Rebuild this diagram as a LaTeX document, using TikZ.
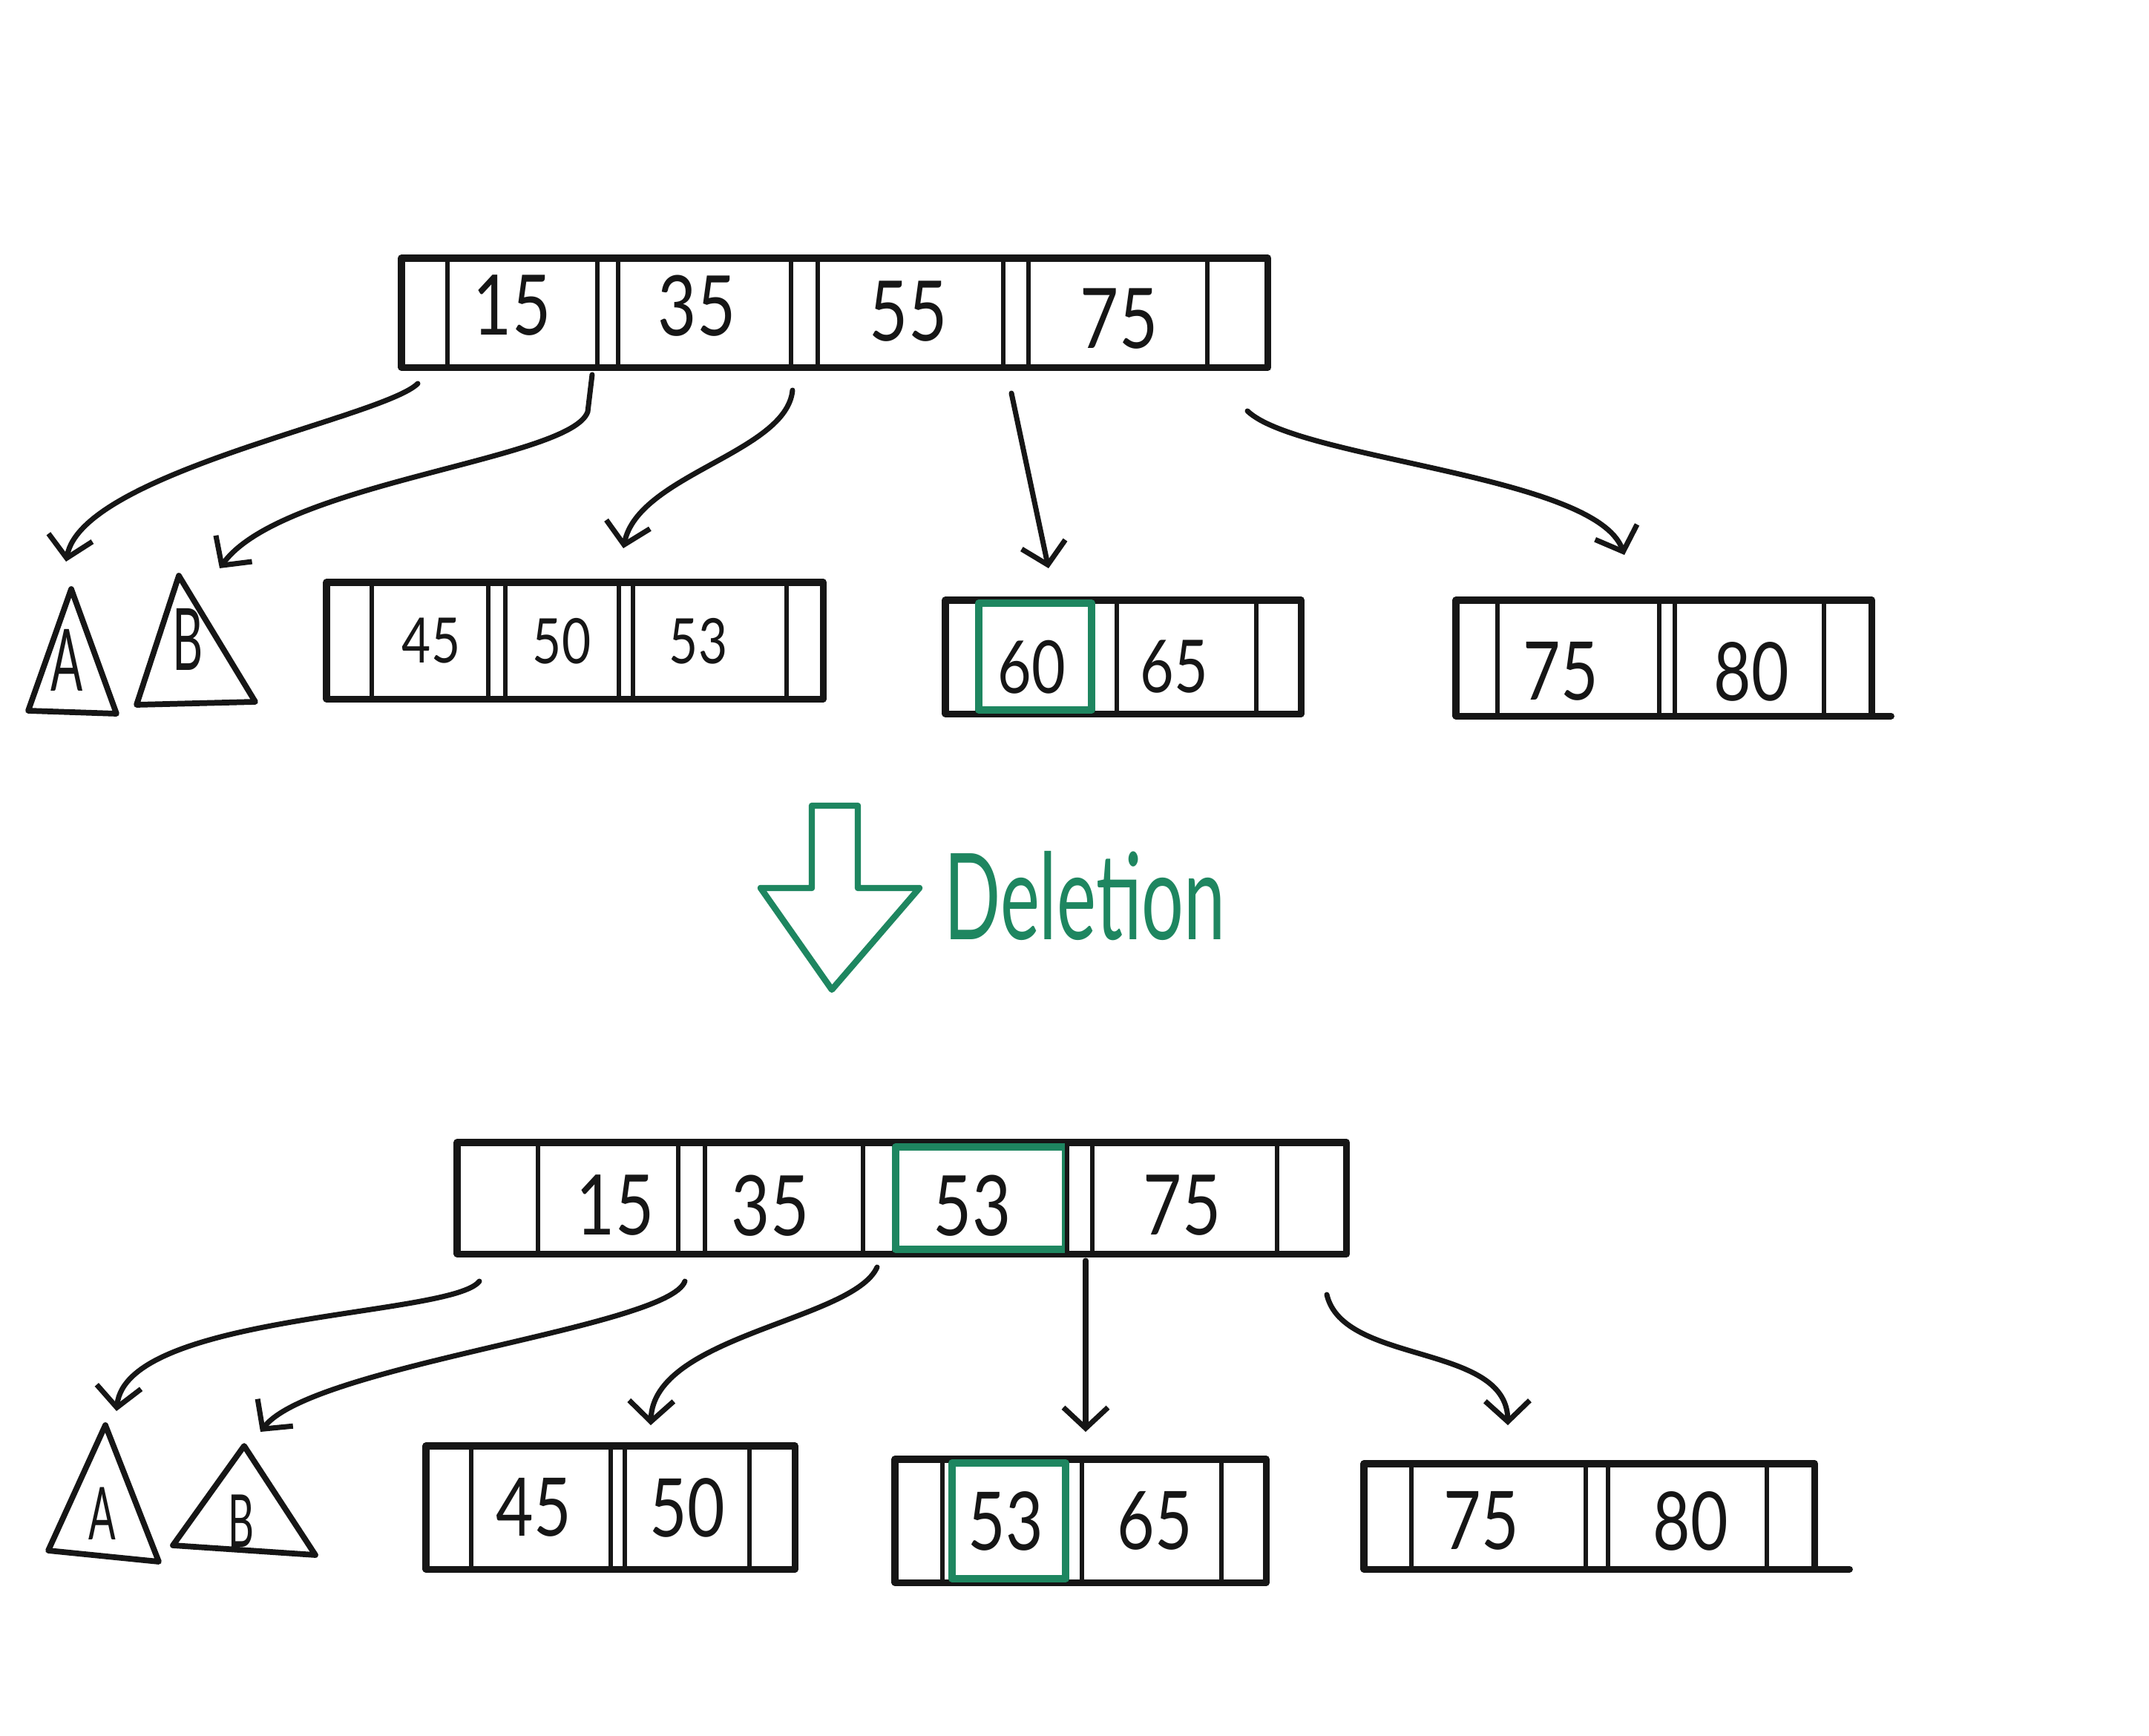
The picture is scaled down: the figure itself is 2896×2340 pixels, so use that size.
\documentclass[tikz,border=0pt]{standalone}
\usepackage{fontspec}
\setmainfont{Lato}
\usetikzlibrary{arrows.meta}
\definecolor{pen}{RGB}{22,22,22}
\definecolor{mark}{RGB}{30,134,96}
\begin{document}
\begin{tikzpicture}[x=0.01cm,y=-0.01cm,line join=round,line cap=round,
  box/.style={draw=pen,line width=2.6pt,inner sep=0pt,outer sep=0pt},
  divl/.style={draw=pen,line width=1.8pt},
  tri/.style={draw=pen,line width=2.2pt},
  hl/.style={draw=mark,line width=2.8pt},
  key/.style={text=pen,inner sep=0pt,xscale=0.8,transform shape},
  sub/.style={text=pen,inner sep=0pt,xscale=0.55,transform shape},
  conn/.style={draw=pen,line width=2pt,-{Straight Barb[length=0.28cm,width=0.6cm]}},
  fr/.style={font=\fontsize{32}{36}\selectfont},
  fa/.style={font=\fontsize{24}{28}\selectfont},
  fb/.style={font=\fontsize{28}{32}\selectfont},
  fc/.style={font=\fontsize{31}{35}\selectfont},
  fl/.style={font=\fontsize{33}{37}\selectfont},
  fm/.style={font=\fontsize{28}{32}\selectfont}]
\fill[white] (0,0) rectangle (2896,2340);
\useasboundingbox (0,0) rectangle (2896,2340);

% ---------------- top tree: root
\node[box,anchor=north west,minimum width=11.67cm,minimum height=1.47cm] (r1) at (541,348) {};
\foreach \x in {603,805,833,1066,1102,1352,1386,1627} \draw[divl] (\x,348) -- (\x,495);
\node[key,fr] (r1k1) at (690,412) {15};
\node[key,fr] (r1k2) at (939,412) {35};
\node[key,fr] (r1k3) at (1224,420) {55};
\node[key,fr] (r1k4) at (1508,430) {75};

% top tree: subtrees A, B
\draw[tri] (96,794) -- (157,962) -- (38,958) -- cycle;
\node[sub,fl] (ta1) at (90,890) {A};
\draw[tri] (241,776) -- (344,946) -- (184,950) -- cycle;
\node[sub,fl] (tb1) at (253,862) {B};

% top tree: leaf 45 50 53
\node[box,anchor=north west,minimum width=6.69cm,minimum height=1.57cm] (l1) at (440,785) {};
\foreach \x in {501,658,681,834,853,1060} \draw[divl] (\x,785) -- (\x,942);
\node[key,fa] (l1k1) at (581,864) {45};
\node[key,fa] (l1k2) at (757,864) {50};
\node[key,fa] (l1k3) at (941,864) {53};

% top tree: leaf 60 65
\node[box,anchor=north west,minimum width=4.79cm,minimum height=1.53cm] (l2) at (1274,809) {};
\foreach \x in {1317,1471,1505,1693} \draw[divl] (\x,809) -- (\x,962);
\draw[hl] (1319,813) rectangle (1471,957);
\node[key,fb] (l2k1) at (1390,899) {60};
\node[key,fb] (l2k2) at (1582,899) {65};

% top tree: leaf 75 80
\node[box,anchor=north west,minimum width=5.60cm,minimum height=1.56cm] (l3) at (1962,809) {};
\foreach \x in {2018,2236,2257,2458} \draw[divl] (\x,809) -- (\x,965);
\draw[box] (l3.south east) -- ++(26,0);
\node[key,fc] (l3k1) at (2103,905) {75};
\node[key,fc] (l3k2) at (2360,905) {80};

% top tree: connectors
\coordinate (s1) at (563,517);  \coordinate (t1) at (89,757);
\coordinate (s2) at (798,505);  \coordinate (t2) at (296,766);
\coordinate (s3) at (1068,526); \coordinate (t3) at (840,739);
\coordinate (s4) at (1363,530); \coordinate (t4) at (1413,766);
\coordinate (s5) at (1681,554); \coordinate (t5) at (2189,748);
\draw[conn] (s1) .. controls (517,563) and (111,637) .. (t1);
\draw[conn] (s2) -- (792,555) .. controls (770,620) and (380,650) .. (t2);
\draw[conn] (s3) .. controls (1060,610) and (860,640) .. (t3);
\draw[conn] (s4) -- (t4);
\draw[conn] (s5) .. controls (1750,620) and (2150,640) .. (t5);

% ---------------- deletion arrow
\draw[hl,line width=2.4pt] (1094,1086) -- (1156,1086) -- (1156,1197) -- (1239,1197)
  -- (1121,1334) -- (1025,1197) -- (1094,1197) -- cycle;
\node[text=mark,inner sep=0pt,xscale=0.62,transform shape,font=\fontsize{46}{50}\selectfont] (del) at (1462,1208) {Deletion};

% ---------------- bottom tree: root
\node[box,anchor=north west,minimum width=11.98cm,minimum height=1.50cm] (r2) at (616,1540) {};
\foreach \x in {725,914,950,1163,1205,1472,1721} \draw[divl] (\x,1540) -- (\x,1690);
\draw[hl] (1207,1546) rectangle (1436,1684);
\draw[divl] (1438,1540) -- (1438,1690);
\node[key,fr] (r2k1) at (829,1625) {15};
\node[key,fr] (r2k2) at (1038,1625) {35};
\node[key,fr] (r2k3) at (1310,1625) {53};
\node[key,fr] (r2k4) at (1593,1625) {75};

% bottom tree: subtrees A, B
\draw[tri] (142,1921) -- (214,2105) -- (65,2090) -- cycle;
\node[sub,fm] (ta2) at (138,2040) {A};
\draw[tri] (329,1949) -- (425,2096) -- (233,2083) -- cycle;
\node[sub,fm] (tb2) at (325,2050) {B};

% bottom tree: leaf 45 50
\node[box,anchor=north west,minimum width=4.97cm,minimum height=1.66cm] (m1) at (574,1949) {};
\foreach \x in {635,823,842,1010} \draw[divl] (\x,1949) -- (\x,2115);
\node[key,fc] (m1k1) at (719,2032) {45};
\node[key,fc] (m1k2) at (926,2032) {50};

% bottom tree: leaf 53 65
\node[box,anchor=north west,minimum width=5.00cm,minimum height=1.66cm] (m2) at (1206,1967) {};
\foreach \x in {1270,1458,1646} \draw[divl] (\x,1967) -- (\x,2133);
\draw[hl] (1283,1972) rectangle (1436,2128);
\node[key,fc] (m2k1) at (1355,2050) {53};
\node[key,fc] (m2k2) at (1556,2050) {65};

% bottom tree: leaf 75 80
\node[box,anchor=north west,minimum width=6.07cm,minimum height=1.42cm] (m3) at (1838,1973) {};
\foreach \x in {1902,2137,2167,2381} \draw[divl] (\x,1973) -- (\x,2115);
\draw[box] (m3.south east) -- ++(47,0);
\node[key,fc] (m3k1) at (1996,2050) {75};
\node[key,fc] (m3k2) at (2278,2050) {80};

% bottom tree: connectors
\coordinate (u1) at (646,1727);  \coordinate (v1) at (157,1902);
\coordinate (u2) at (923,1727);  \coordinate (v2) at (351,1930);
\coordinate (u3) at (1182,1708); \coordinate (v3) at (877,1921);
\coordinate (u4) at (1463,1699); \coordinate (v4) at (1463,1930);
\coordinate (u5) at (1788,1745); \coordinate (v5) at (2032,1921);
\draw[conn] (u1) .. controls (610,1775) and (170,1770) .. (v1);
\draw[conn] (u2) .. controls (900,1790) and (420,1840) .. (v2);
\draw[conn] (u3) .. controls (1150,1780) and (880,1800) .. (v3);
\draw[conn] (u4) -- (v4);
\draw[conn] (u5) .. controls (1810,1840) and (2030,1810) .. (v5);
\end{tikzpicture}
\end{document}
